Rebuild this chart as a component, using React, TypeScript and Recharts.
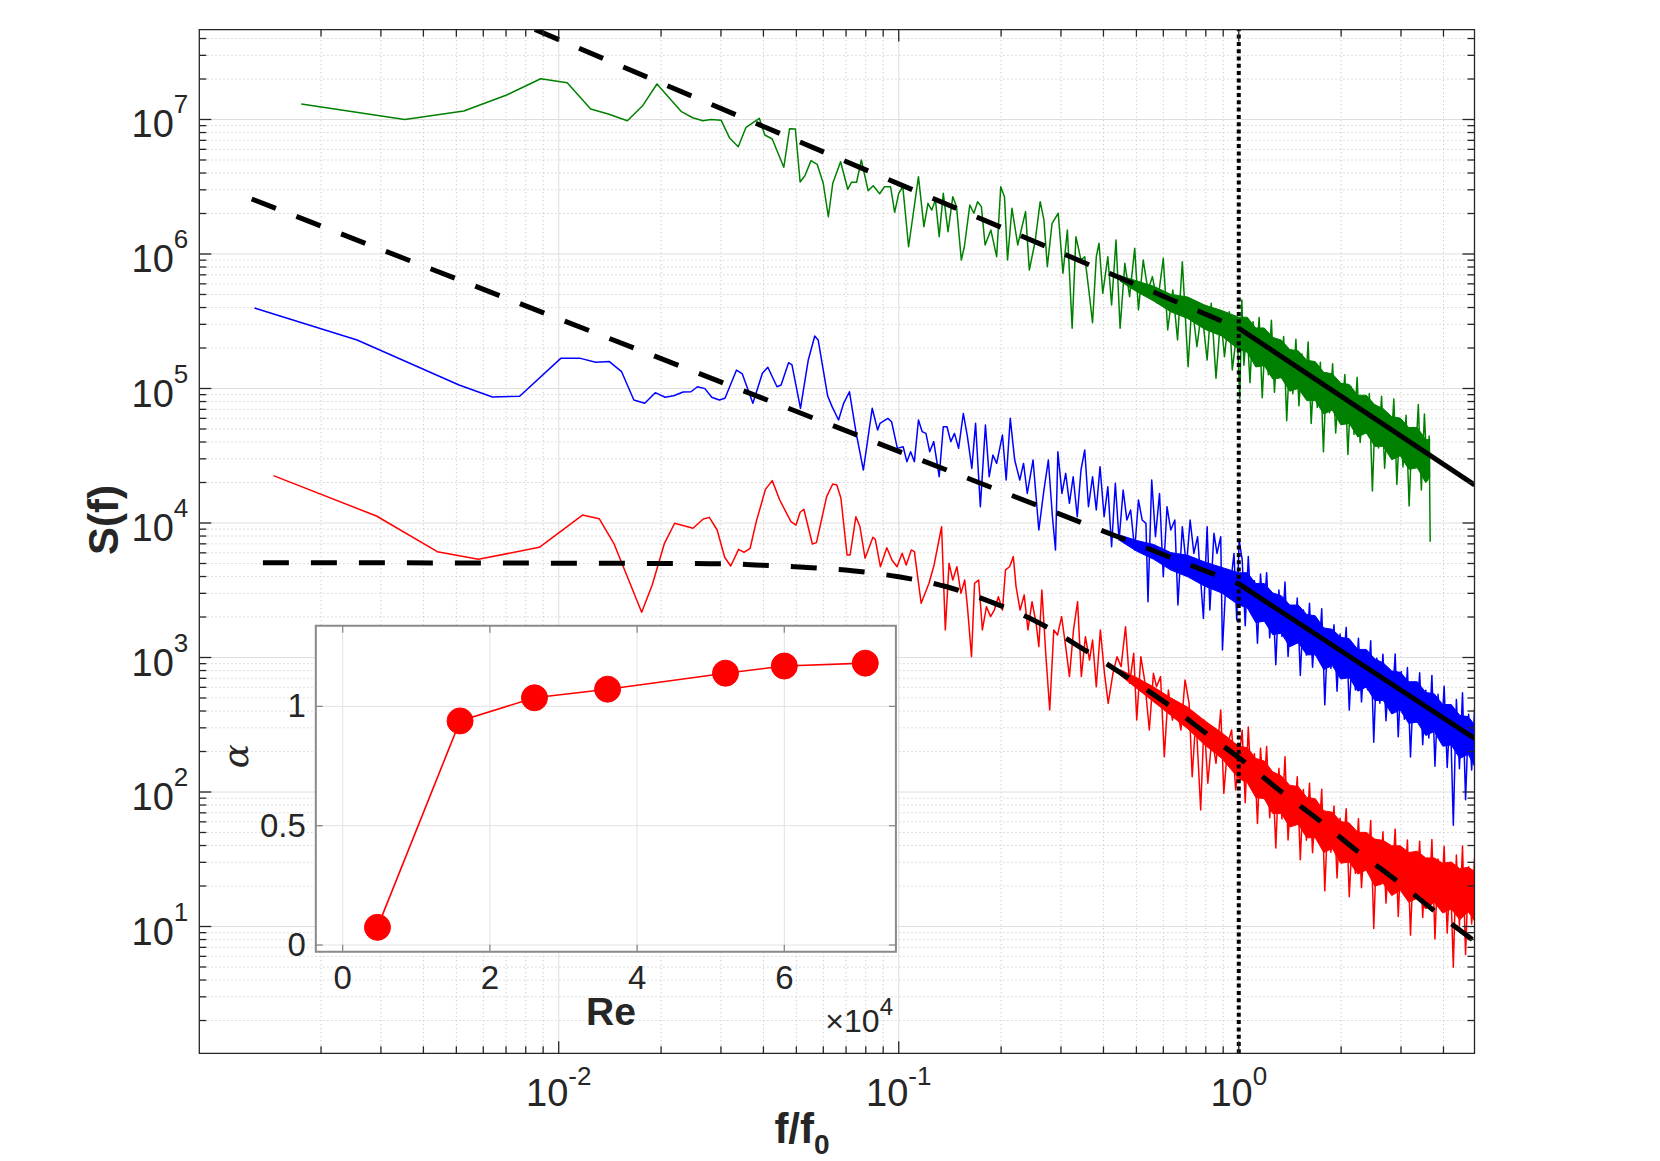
import {
  ComposedChart,
  Line,
  Area,
  XAxis,
  YAxis,
  ReferenceLine,
  ReferenceArea,
  CartesianGrid,
} from 'recharts'

const GREEN = '#008000'
const BLUE = '#0000ff'
const RED = '#ff0000'
const AXIS = '#262626'
const FONT = '"Liberation Sans", Arial, Helvetica, sans-serif'

// main axes (log-log)
const X_DOMAIN: [number, number] = [0.000877, 4.935]
const Y_DOMAIN: [number, number] = [1.141, 4.66e7]
const PLOT_L = 199.3
const PLOT_T = 29.6
const PLOT_R = 1474.5
const PLOT_B = 1053.3

const xMajorTicks = [0.01, 0.1, 1]
const xMinorTicks = [
  0.002, 0.003, 0.004, 0.005, 0.006, 0.007, 0.008, 0.009,
  0.02, 0.03, 0.04, 0.05, 0.06, 0.07, 0.08, 0.09,
  0.2, 0.3, 0.4, 0.5, 0.6, 0.7, 0.8, 0.9,
  2, 3, 4,
]
const yMajorTicks = [10, 100, 1000, 1e4, 1e5, 1e6, 1e7]
const yMinorTicks = [
  2, 3, 4, 5, 6, 7, 8, 9,
  20, 30, 40, 50, 60, 70, 80, 90,
  200, 300, 400, 500, 600, 700, 800, 900,
  2e3, 3e3, 4e3, 5e3, 6e3, 7e3, 8e3, 9e3,
  2e4, 3e4, 4e4, 5e4, 6e4, 7e4, 8e4, 9e4,
  2e5, 3e5, 4e5, 5e5, 6e5, 7e5, 8e5, 9e5,
  2e6, 3e6, 4e6, 5e6, 6e6, 7e6, 8e6, 9e6,
  2e7, 3e7, 4e7,
]

// spectra, as [log10(f/f0), log10 S(f)]
const greenLowFreq = [
  [-2.757, 7.115], [-2.453, 7.0], [-2.279, 7.063], [-2.153, 7.182], [-2.053, 7.303], [-1.975, 7.274],
  [-1.906, 7.078], [-1.852, 7.039], [-1.798, 6.991], [-1.754, 7.1], [-1.711, 7.264], [-1.639, 7.058],
  [-1.606, 7.013], [-1.576, 6.991], [-1.552, 7.0], [-1.522, 6.994], [-1.498, 6.865], [-1.472, 6.798],
  [-1.449, 6.942], [-1.41, 7.009], [-1.394, 6.885], [-1.372, 6.855], [-1.338, 6.645], [-1.321, 6.932],
  [-1.304, 6.929], [-1.29, 6.535], [-1.276, 6.582], [-1.258, 6.694], [-1.24, 6.667], [-1.222, 6.526],
  [-1.207, 6.277], [-1.194, 6.526], [-1.171, 6.686], [-1.15, 6.481], [-1.139, 6.533], [-1.124, 6.533],
  [-1.11, 6.699], [-1.09, 6.471], [-1.075, 6.508], [-1.056, 6.448], [-1.042, 6.5], [-1.024, 6.5],
  [-1.012, 6.31], [-1.0, 6.451], [-0.988, 6.5], [-0.971, 6.054],
  [-0.942, 6.575], [-0.926, 6.203], [-0.914, 6.377], [-0.903, 6.327], [-0.892, 6.401], [-0.881, 6.129],
  [-0.869, 6.451], [-0.855, 6.166], [-0.841, 6.426], [-0.83, 6.352], [-0.816, 5.955], [-0.807, 6.054],
  [-0.791, 6.364], [-0.779, 6.303], [-0.768, 6.389], [-0.757, 6.352], [-0.746, 6.067], [-0.729, 6.178],
  [-0.712, 5.98], [-0.7, 6.5], [-0.689, 6.426], [-0.68, 5.955], [-0.667, 6.34], [-0.65, 6.067],
  [-0.627, 6.315], [-0.616, 5.881], [-0.599, 6.091], [-0.584, 6.389], [-0.573, 6.253], [-0.563, 5.906],
  [-0.549, 6.228], [-0.531, 6.303], [-0.517, 5.857], [-0.504, 6.178], [-0.49, 5.448], [-0.479, 6.129],
  [-0.464, 5.955], [-0.453, 5.98], [-0.441, 5.732], [-0.43, 5.489], [-0.419, 5.98], [-0.411, 6.08],
  [-0.4, 5.708], [-0.385, 5.98], [-0.374, 5.621], [-0.361, 6.104], [-0.349, 5.448], [-0.335, 5.931],
  [-0.321, 5.683], [-0.306, 6.042], [-0.295, 5.584], [-0.281, 5.955], [-0.267, 5.732], [-0.254, 5.831],
  [-0.239, 5.633], [-0.222, 5.968], [-0.209, 5.435], [-0.194, 5.732], [-0.18, 5.361], [-0.166, 5.943],
  [-0.149, 5.162], [-0.138, 5.633], [-0.123, 5.311], [-0.109, 5.584], [-0.093, 5.212], [-0.081, 5.633],
  [-0.067, 5.076], [-0.053, 5.534], [-0.042, 5.236], [-0.028, 5.571], [-0.019, 5.138], [-0.005, 5.435],
  [0.003, 4.927], [0.009, 5.658],
]
const greenHighFreq = [
  [0.015, 5.173], [0.024, 5.458], [0.033, 5.043], [0.042, 5.497], [0.051, 5.212], [0.06, 5.527],
  [0.069, 4.932], [0.078, 5.397], [0.087, 5.102], [0.096, 5.507], [0.105, 4.972], [0.114, 5.356],
  [0.123, 5.121], [0.132, 5.386], [0.141, 4.761], [0.15, 5.256], [0.159, 4.961], [0.168, 5.366],
  [0.177, 4.871], [0.186, 5.256], [0.195, 4.97], [0.204, 5.345], [0.213, 4.74], [0.222, 5.155],
  [0.231, 4.86], [0.24, 5.195], [0.249, 4.53], [0.258, 5.115], [0.267, 4.82], [0.276, 5.184],
  [0.285, 4.669], [0.294, 5.004], [0.303, 4.819], [0.312, 5.104], [0.321, 4.509], [0.33, 5.014],
  [0.339, 4.659], [0.348, 5.083], [0.357, 4.598], [0.366, 4.913], [0.375, 4.668], [0.384, 4.963],
  [0.393, 4.238], [0.402, 4.873], [0.411, 4.558], [0.42, 4.942], [0.429, 4.407], [0.438, 4.772],
  [0.447, 4.517], [0.456, 4.922], [0.465, 4.287], [0.474, 4.772], [0.483, 4.417], [0.492, 4.801],
  [0.501, 4.126], [0.51, 4.691], [0.519, 4.426], [0.528, 4.881], [0.537, 4.246], [0.546, 4.811],
  [0.555, 4.316], [0.56, 4.647], [0.563, 3.861],
]

const blueLowFreq = [
  [-2.895, 5.599], [-2.593, 5.361], [-2.293, 5.026], [-2.195, 4.937], [-2.115, 4.942], [-1.994, 5.224],
  [-1.936, 5.224], [-1.891, 5.195], [-1.851, 5.2], [-1.815, 5.125], [-1.779, 4.914], [-1.747, 4.89],
  [-1.716, 4.969], [-1.687, 4.935], [-1.662, 4.946], [-1.634, 4.974], [-1.611, 4.976], [-1.592, 5.013],
  [-1.57, 4.999], [-1.55, 4.935], [-1.528, 4.914], [-1.511, 4.927], [-1.477, 5.137], [-1.46, 5.108],
  [-1.429, 4.89], [-1.401, 5.113], [-1.385, 5.158], [-1.358, 5.013], [-1.346, 5.026], [-1.324, 5.192],
  [-1.314, 5.175], [-1.289, 4.853], [-1.266, 5.212], [-1.247, 5.39], [-1.237, 5.361], [-1.209, 4.944],
  [-1.196, 4.865], [-1.177, 4.766], [-1.162, 4.89], [-1.145, 4.976], [-1.126, 4.679], [-1.104, 4.394],
  [-1.078, 4.853], [-1.062, 4.691],
  [-1.055, 4.741], [-1.032, 4.778], [-1.021, 4.753], [-1.004, 4.555], [-0.987, 4.567], [-0.976, 4.456],
  [-0.965, 4.53], [-0.954, 4.456], [-0.942, 4.766], [-0.931, 4.679], [-0.92, 4.666], [-0.909, 4.53],
  [-0.897, 4.605], [-0.881, 4.344], [-0.869, 4.716], [-0.858, 4.716], [-0.847, 4.605], [-0.836, 4.666],
  [-0.824, 4.555], [-0.81, 4.815], [-0.798, 4.642], [-0.785, 4.406], [-0.774, 4.741], [-0.76, 4.121],
  [-0.745, 4.728], [-0.734, 4.344], [-0.723, 4.505], [-0.712, 4.443], [-0.695, 4.654], [-0.684, 4.32],
  [-0.672, 4.778], [-0.659, 4.468], [-0.644, 4.32], [-0.633, 4.443], [-0.622, 4.22], [-0.605, 4.468],
  [-0.588, 3.948], [-0.573, 4.245], [-0.56, 4.468], [-0.548, 4.047], [-0.539, 3.799], [-0.532, 4.53],
  [-0.52, 4.22], [-0.509, 4.369], [-0.498, 4.146], [-0.487, 4.344], [-0.475, 4.047], [-0.464, 4.394],
  [-0.453, 4.543], [-0.442, 4.121], [-0.43, 4.344], [-0.419, 4.097], [-0.408, 4.419], [-0.396, 4.047],
  [-0.385, 4.27], [-0.374, 3.824], [-0.363, 4.295], [-0.352, 3.873], [-0.34, 4.245], [-0.329, 4.022],
  [-0.318, 4.097], [-0.306, 3.799], [-0.295, 4.171], [-0.284, 4.022], [-0.273, 3.997], [-0.267, 3.415],
  [-0.256, 4.32], [-0.245, 3.898], [-0.233, 4.22], [-0.222, 3.601], [-0.211, 4.121], [-0.2, 3.948],
  [-0.188, 4.022], [-0.179, 3.39], [-0.166, 3.973], [-0.154, 3.675], [-0.143, 4.022], [-0.132, 3.774],
  [-0.121, 3.898], [-0.104, 3.291], [-0.093, 3.973], [-0.085, 3.353], [-0.073, 3.923], [-0.064, 3.774],
  [-0.053, 3.898], [-0.048, 3.056], [-0.036, 3.65], [-0.025, 3.527], [-0.014, 3.774], [-0.006, 3.279],
  [0.001, 3.873],
]
const blueHighFreq = [
  [0.01, 3.73], [0.019, 3.236], [0.028, 3.751], [0.037, 3.336], [0.046, 3.571], [0.055, 3.106],
  [0.064, 3.621], [0.073, 3.306], [0.082, 3.631], [0.091, 3.146], [0.1, 3.462], [0.109, 2.947],
  [0.118, 3.502], [0.127, 3.157], [0.136, 3.562], [0.145, 3.007], [0.154, 3.352], [0.163, 3.137],
  [0.172, 3.442], [0.181, 2.867], [0.19, 3.353], [0.199, 3.018], [0.208, 3.403], [0.217, 2.928],
  [0.226, 3.273], [0.235, 3.008], [0.244, 3.363], [0.253, 2.648], [0.262, 3.193], [0.271, 2.918],
  [0.28, 3.244], [0.289, 2.749], [0.298, 3.174], [0.307, 2.919], [0.316, 3.224], [0.325, 2.609],
  [0.334, 3.054], [0.343, 2.759], [0.352, 3.144], [0.361, 2.67], [0.37, 3.035], [0.379, 2.76],
  [0.388, 3.125], [0.397, 2.37], [0.406, 2.995], [0.415, 2.66], [0.424, 3.025], [0.433, 2.53],
  [0.442, 2.895], [0.451, 2.651], [0.46, 3.026], [0.469, 2.411], [0.478, 2.896], [0.487, 2.541],
  [0.496, 2.926], [0.505, 2.261], [0.514, 2.796], [0.523, 2.521], [0.532, 2.887], [0.541, 2.352],
  [0.55, 2.757], [0.559, 2.402], [0.568, 2.867], [0.577, 2.192], [0.586, 2.727], [0.595, 2.382],
  [0.604, 2.787], [0.613, 2.182], [0.622, 2.618], [0.631, 1.753], [0.64, 2.688], [0.649, 2.173],
  [0.658, 2.738], [0.667, 1.943], [0.676, 2.578], [0.685, 2.163], [0.6935, 2.619],
]

const redLowFreq = [
  [-2.839, 4.352], [-2.536, 4.052], [-2.357, 3.787], [-2.236, 3.73], [-2.057, 3.819], [-1.93, 4.059],
  [-1.881, 4.032], [-1.838, 3.849], [-1.756, 3.336], [-1.725, 3.539], [-1.689, 3.849], [-1.659, 3.998],
  [-1.605, 3.961], [-1.575, 4.03], [-1.557, 4.042], [-1.534, 3.948], [-1.512, 3.745], [-1.494, 3.68],
  [-1.471, 3.804], [-1.455, 3.782], [-1.437, 3.812], [-1.419, 4.01], [-1.392, 4.25], [-1.372, 4.315],
  [-1.35, 4.171], [-1.317, 4.01], [-1.302, 3.985], [-1.29, 4.08], [-1.279, 4.102], [-1.254, 3.844],
  [-1.242, 3.854], [-1.212, 4.196], [-1.194, 4.29], [-1.182, 4.283], [-1.17, 4.184], [-1.152, 3.762],
  [-1.143, 3.762], [-1.126, 4.047], [-1.114, 3.972], [-1.099, 3.738], [-1.076, 3.894], [-1.069, 3.879],
  [-1.054, 3.675], [-1.035, 3.816], [-1.02, 3.725], [-1.005, 3.675], [-0.99, 3.775], [-0.978, 3.688],
  [-0.963, 3.8], [-0.954, 3.787], [-0.934, 3.403], [-0.911, 3.552], [-0.896, 3.688], [-0.874, 3.972],
  [-0.863, 3.204],
  [-0.852, 3.7], [-0.841, 3.576], [-0.829, 3.675], [-0.817, 3.477], [-0.806, 3.576], [-0.798, 3.378],
  [-0.786, 3.006], [-0.777, 3.551], [-0.765, 3.576], [-0.754, 3.205], [-0.742, 3.378], [-0.73, 3.304],
  [-0.719, 3.353], [-0.707, 3.452], [-0.695, 3.353], [-0.686, 3.651], [-0.674, 3.675], [-0.663, 3.75],
  [-0.655, 3.527], [-0.643, 3.353], [-0.631, 3.465], [-0.62, 3.205], [-0.608, 3.415], [-0.596, 3.254],
  [-0.588, 3.081], [-0.579, 3.502], [-0.567, 3.006], [-0.556, 2.61], [-0.544, 3.205], [-0.533, 3.167],
  [-0.521, 3.304], [-0.509, 3.081], [-0.498, 2.858], [-0.486, 3.205], [-0.474, 3.415], [-0.463, 2.858],
  [-0.451, 3.155], [-0.439, 2.981], [-0.43, 3.13], [-0.419, 2.783], [-0.407, 3.205], [-0.395, 2.882],
  [-0.384, 2.659], [-0.37, 2.882], [-0.358, 3.006], [-0.346, 2.932], [-0.333, 3.229], [-0.321, 2.808],
  [-0.309, 3.031], [-0.3, 2.535], [-0.288, 3.006], [-0.277, 2.833], [-0.263, 2.461], [-0.251, 2.882],
  [-0.242, 2.783], [-0.23, 2.858], [-0.219, 2.263], [-0.207, 2.758], [-0.195, 2.535], [-0.184, 2.659],
  [-0.17, 2.461], [-0.158, 2.833], [-0.146, 2.659], [-0.137, 2.114], [-0.126, 2.56], [-0.112, 1.866],
  [-0.102, 2.535], [-0.091, 2.065], [-0.079, 2.411], [-0.067, 2.213], [-0.053, 2.61], [-0.044, 1.99],
  [-0.032, 2.362], [-0.021, 2.461], [-0.009, 2.015],
]
const redHighFreq = [
  [0.01, 2.459], [0.019, 1.921], [0.028, 2.483], [0.037, 2.034], [0.046, 2.285], [0.055, 1.766],
  [0.064, 2.326], [0.073, 1.967], [0.082, 2.338], [0.091, 1.809], [0.1, 2.13], [0.109, 1.583],
  [0.118, 2.176], [0.127, 1.799], [0.136, 2.262], [0.145, 1.644], [0.154, 2.007], [0.163, 1.78],
  [0.172, 2.113], [0.181, 1.496], [0.19, 2.019], [0.199, 1.642], [0.208, 2.066], [0.217, 1.549],
  [0.226, 1.913], [0.235, 1.637], [0.244, 2.021], [0.253, 1.265], [0.262, 1.828], [0.271, 1.552],
  [0.28, 1.896], [0.289, 1.36], [0.298, 1.804], [0.307, 1.549], [0.316, 1.876], [0.325, 1.222],
  [0.334, 1.689], [0.343, 1.395], [0.352, 1.802], [0.361, 1.288], [0.37, 1.675], [0.379, 1.402],
  [0.388, 1.788], [0.397, 0.985], [0.406, 1.643], [0.415, 1.314], [0.424, 1.704], [0.433, 1.174],
  [0.442, 1.564], [0.451, 1.324], [0.46, 1.724], [0.469, 1.074], [0.478, 1.584], [0.487, 1.234],
  [0.496, 1.644], [0.505, 0.936], [0.514, 1.509], [0.523, 1.242], [0.532, 1.634], [0.541, 1.067],
  [0.55, 1.5], [0.559, 1.153], [0.568, 1.646], [0.577, 0.908], [0.586, 1.501], [0.595, 1.164],
  [0.604, 1.597], [0.613, 0.951], [0.622, 1.424], [0.631, 0.697], [0.64, 1.531], [0.649, 1.004],
  [0.658, 1.598], [0.667, 0.791], [0.676, 1.445], [0.685, 1.018], [0.6935, 1.513],
]

// dense cores of the noisy tails: [log10 f, log10 low, log10 high]
const greenCore = [
  [-0.35, 5.8, 5.84], [-0.3, 5.72, 5.8], [-0.25, 5.65, 5.76], [-0.2, 5.57, 5.7], [-0.15, 5.52, 5.68],
  [-0.1, 5.44, 5.62], [-0.05, 5.39, 5.58], [0, 5.29, 5.53],
  [0.025, 5.27, 5.53], [0.05, 5.16, 5.45], [0.075, 5.17, 5.45], [0.1, 5.07, 5.38], [0.125, 5.08, 5.36],
  [0.15, 4.98, 5.29], [0.175, 5.0, 5.28], [0.2, 4.91, 5.21], [0.225, 4.91, 5.2], [0.25, 4.81, 5.12],
  [0.275, 4.84, 5.11], [0.3, 4.73, 5.04], [0.325, 4.74, 5.03], [0.35, 4.64, 4.95], [0.375, 4.67, 4.95],
  [0.4, 4.57, 4.88], [0.425, 4.57, 4.85], [0.45, 4.47, 4.79], [0.475, 4.5, 4.78], [0.5, 4.4, 4.71],
  [0.525, 4.41, 4.71], [0.55, 4.3, 4.62], [0.563, 4.35, 4.62],
]
const blueCore = [
  [-0.35, 3.87, 3.91], [-0.3, 3.79, 3.87], [-0.25, 3.73, 3.84], [-0.2, 3.65, 3.78], [-0.15, 3.6, 3.76],
  [-0.1, 3.53, 3.71], [-0.05, 3.48, 3.67], [0, 3.39, 3.63],
  [0.025, 3.37, 3.63], [0.05, 3.26, 3.55], [0.075, 3.27, 3.55], [0.1, 3.17, 3.48], [0.125, 3.18, 3.46],
  [0.15, 3.08, 3.39], [0.175, 3.11, 3.39], [0.2, 3.02, 3.32], [0.225, 3.02, 3.31], [0.25, 2.91, 3.22],
  [0.275, 2.94, 3.21], [0.3, 2.84, 3.15], [0.325, 2.85, 3.14], [0.35, 2.75, 3.06], [0.375, 2.78, 3.06],
  [0.4, 2.68, 2.99], [0.425, 2.68, 2.96], [0.45, 2.58, 2.9], [0.475, 2.61, 2.89], [0.5, 2.51, 2.82],
  [0.525, 2.52, 2.82], [0.55, 2.42, 2.74], [0.575, 2.45, 2.73], [0.6, 2.34, 2.65], [0.625, 2.35, 2.65],
  [0.65, 2.25, 2.57], [0.675, 2.28, 2.56], [0.6935, 2.19, 2.5],
]
const redCore = [
  [-0.35, 2.87, 2.91], [-0.3, 2.77, 2.85], [-0.25, 2.67, 2.78], [-0.2, 2.57, 2.7], [-0.15, 2.47, 2.63],
  [-0.1, 2.35, 2.53], [-0.05, 2.25, 2.44], [0, 2.1, 2.34],
  [0.025, 2.07, 2.33], [0.05, 1.96, 2.25], [0.075, 1.95, 2.23], [0.1, 1.84, 2.15], [0.125, 1.84, 2.12],
  [0.15, 1.74, 2.05], [0.175, 1.76, 2.04], [0.2, 1.66, 1.96], [0.225, 1.66, 1.95], [0.25, 1.55, 1.86],
  [0.275, 1.58, 1.85], [0.3, 1.47, 1.78], [0.325, 1.48, 1.77], [0.35, 1.39, 1.7], [0.375, 1.42, 1.7],
  [0.4, 1.3, 1.65], [0.425, 1.32, 1.64], [0.45, 1.23, 1.6], [0.475, 1.27, 1.6], [0.5, 1.18, 1.55],
  [0.525, 1.21, 1.56], [0.55, 1.13, 1.51], [0.575, 1.18, 1.51], [0.6, 1.1, 1.47], [0.625, 1.13, 1.48],
  [0.65, 1.05, 1.43], [0.675, 1.11, 1.44], [0.6935, 1.04, 1.41],
]

// fits
const greenFitLow = [[-2.2, 7.809], [0, 5.448]]
const greenFitHigh = [[0, 5.448], [0.6935, 4.283]]
const blueFitLow = [[-2.903, 6.409], [0, 3.547]]
const blueFitHigh = [[0, 3.547], [0.6935, 2.399]]
const redFit = [
  [-2.87, 3.705], [-1.512, 3.697], [-1.422, 3.688], [-1.279, 3.671], [-1.137, 3.645], [-1.0, 3.6],
  [-0.859, 3.526], [-0.731, 3.415], [-0.604, 3.279], [-0.445, 3.043], [-0.323, 2.845], [-0.213, 2.659],
  [-0.096, 2.436], [0.009, 2.238], [0.131, 1.99], [0.235, 1.792], [0.351, 1.556], [0.462, 1.346],
  [0.572, 1.123], [0.6935, 0.89],
]

// inset: exponent alpha vs Re
const reValues = [4730, 15950, 26060, 35990, 52010, 60000, 71000]
const alphaValues = [0.074, 0.939, 1.036, 1.072, 1.139, 1.169, 1.181]
const reTicks = [0, 20000, 40000, 60000]
const alphaTicks = [0, 0.5, 1]

const toPoints = (pairs: number[][]) => pairs.map(([lf, ls]) => ({ f: 10 ** lf, s: 10 ** ls }))
const toBand = (rows: number[][]) =>
  rows.map(([lf, lo, hi]) => ({ f: 10 ** lf, range: [10 ** lo, 10 ** hi] }))

const greenData = toPoints([...greenLowFreq, ...greenHighFreq])
const blueData = toPoints([...blueLowFreq, ...blueHighFreq])
const redData = toPoints([...redLowFreq, ...redHighFreq])
const insetData = reValues.map((re, i) => ({ re, alpha: alphaValues[i] }))

const mainXTick = (props: any) => {
  const { x, payload } = props
  const v = payload.value
  const major = xMajorTicks.includes(v)
  const len = major ? 12 : 7
  return (
    <g>
      <line x1={x} x2={x} y1={PLOT_B} y2={PLOT_B - len} stroke={AXIS} strokeWidth={1.3} />
      <line x1={x} x2={x} y1={PLOT_T} y2={PLOT_T + len} stroke={AXIS} strokeWidth={1.3} />
      {major && (
        <text x={x} y={PLOT_B + 53} textAnchor="middle" fill={AXIS} fontSize={38} fontFamily={FONT}>
          10
          <tspan dy={-21} fontSize={26}>
            {Math.round(Math.log10(v))}
          </tspan>
        </text>
      )}
    </g>
  )
}

const mainYTick = (props: any) => {
  const { y, payload } = props
  const v = payload.value
  const major = yMajorTicks.includes(v)
  const len = major ? 12 : 7
  return (
    <g>
      <line x1={PLOT_L} x2={PLOT_L + len} y1={y} y2={y} stroke={AXIS} strokeWidth={1.3} />
      <line x1={PLOT_R} x2={PLOT_R - len} y1={y} y2={y} stroke={AXIS} strokeWidth={1.3} />
      {major && (
        <text x={PLOT_L - 11} y={y + 18} textAnchor="end" fill={AXIS} fontSize={38} fontFamily={FONT}>
          10
          <tspan dy={-24} fontSize={26}>
            {Math.round(Math.log10(v))}
          </tspan>
        </text>
      )}
    </g>
  )
}

// inset plot box, in the inset's own svg
const IN_L = 115.8
const IN_T = 25.7
const IN_R = 695.9
const IN_B = 351.7
const INSET_BOX = '#8a8a8a'

const insetXTick = (props: any) => {
  const { x, payload } = props
  return (
    <g>
      <line x1={x} x2={x} y1={IN_B} y2={IN_B - 7} stroke={INSET_BOX} strokeWidth={1.3} />
      <line x1={x} x2={x} y1={IN_T} y2={IN_T + 7} stroke={INSET_BOX} strokeWidth={1.3} />
      <text x={x} y={IN_B + 37} textAnchor="middle" fill={AXIS} fontSize={33} fontFamily={FONT}>
        {payload.value / 10000}
      </text>
    </g>
  )
}

const insetYTick = (props: any) => {
  const { y, payload } = props
  return (
    <g>
      <line x1={IN_L} x2={IN_L + 7} y1={y} y2={y} stroke={INSET_BOX} strokeWidth={1.3} />
      <line x1={IN_R} x2={IN_R - 7} y1={y} y2={y} stroke={INSET_BOX} strokeWidth={1.3} />
      <text x={IN_L - 10} y={y + 11} textAnchor="end" fill={AXIS} fontSize={33} fontFamily={FONT}>
        {payload.value}
      </text>
    </g>
  )
}

const X_AXIS_H = 60
const Y_AXIS_W = 80

function MainChart() {
  return (
    <ComposedChart
      width={1660}
      height={1161}
      margin={{
        top: PLOT_T,
        left: PLOT_L - Y_AXIS_W,
        right: 1660 - PLOT_R,
        bottom: 1161 - PLOT_B - X_AXIS_H,
      }}
    >
      <XAxis
        dataKey="f"
        type="number"
        scale="log"
        domain={X_DOMAIN}
        allowDataOverflow
        ticks={[...xMajorTicks, ...xMinorTicks]}
        interval={0}
        height={X_AXIS_H}
        tickLine={false}
        axisLine={false}
        tick={mainXTick}
      />
      <YAxis
        type="number"
        scale="log"
        domain={Y_DOMAIN}
        allowDataOverflow
        ticks={[...yMajorTicks, ...yMinorTicks]}
        interval={0}
        width={Y_AXIS_W}
        tickLine={false}
        axisLine={false}
        tick={mainYTick}
      />
      {xMinorTicks.map((v) => (
        <ReferenceLine key={'xm' + v} x={v} stroke="#c9c9c9" strokeDasharray="1.2 2.8" zIndex={-50} />
      ))}
      {yMinorTicks.map((v) => (
        <ReferenceLine key={'ym' + v} y={v} stroke="#c9c9c9" strokeDasharray="1.2 2.8" zIndex={-50} />
      ))}
      {xMajorTicks.map((v) => (
        <ReferenceLine key={'xM' + v} x={v} stroke="#dedede" zIndex={-40} />
      ))}
      {yMajorTicks.map((v) => (
        <ReferenceLine key={'yM' + v} y={v} stroke="#dedede" zIndex={-40} />
      ))}

      <Area data={toBand(greenCore)} dataKey="range" type="linear" stroke={GREEN} strokeWidth={1} fill={GREEN} fillOpacity={1} isAnimationActive={false} />
      <Area data={toBand(blueCore)} dataKey="range" type="linear" stroke={BLUE} strokeWidth={1} fill={BLUE} fillOpacity={1} isAnimationActive={false} />
      <Area data={toBand(redCore)} dataKey="range" type="linear" stroke={RED} strokeWidth={1} fill={RED} fillOpacity={1} isAnimationActive={false} />

      <Line data={greenData} dataKey="s" stroke={GREEN} strokeWidth={1.5} strokeLinejoin="round" dot={false} isAnimationActive={false} />
      <Line data={blueData} dataKey="s" stroke={BLUE} strokeWidth={1.5} strokeLinejoin="round" dot={false} isAnimationActive={false} />
      <Line data={redData} dataKey="s" stroke={RED} strokeWidth={1.5} strokeLinejoin="round" dot={false} isAnimationActive={false} />

      <Line data={toPoints(greenFitLow)} dataKey="s" stroke="#000" strokeWidth={5} strokeDasharray="26 22" dot={false} isAnimationActive={false} />
      <Line data={toPoints(blueFitLow)} dataKey="s" stroke="#000" strokeWidth={5} strokeDasharray="26 22" dot={false} isAnimationActive={false} />
      <Line data={toPoints(redFit)} dataKey="s" type="monotone" stroke="#000" strokeWidth={5} strokeDasharray="26 22" dot={false} isAnimationActive={false} />
      <Line data={toPoints(greenFitHigh)} dataKey="s" stroke="#000" strokeWidth={5} dot={false} isAnimationActive={false} />
      <Line data={toPoints(blueFitHigh)} dataKey="s" stroke="#000" strokeWidth={5} dot={false} isAnimationActive={false} />

      <ReferenceLine x={1} stroke="#000" strokeWidth={4} strokeDasharray="4 3.3" zIndex={700} />
      <ReferenceArea
        x1={X_DOMAIN[0]}
        x2={X_DOMAIN[1]}
        y1={Y_DOMAIN[0]}
        y2={Y_DOMAIN[1]}
        fill="none"
        fillOpacity={0}
        stroke={AXIS}
        strokeWidth={1.3}
        zIndex={800}
      />
    </ComposedChart>
  )
}

const IN_X_AXIS_H = 50
const IN_Y_AXIS_W = 60

function InsetChart() {
  return (
    <ComposedChart
      width={750}
      height={440}
      data={insetData}
      margin={{ top: IN_T, left: IN_L - IN_Y_AXIS_W, right: 750 - IN_R, bottom: 440 - IN_B - IN_X_AXIS_H }}
    >
      <CartesianGrid stroke="#e2e2e2" fill="#ffffff" fillOpacity={1} />
      <XAxis
        dataKey="re"
        type="number"
        domain={[-3650, 75160]}
        allowDataOverflow
        ticks={reTicks}
        interval={0}
        height={IN_X_AXIS_H}
        tickLine={false}
        axisLine={false}
        tick={insetXTick}
      />
      <YAxis
        type="number"
        domain={[-0.028, 1.338]}
        allowDataOverflow
        ticks={alphaTicks}
        interval={0}
        width={IN_Y_AXIS_W}
        tickLine={false}
        axisLine={false}
        tick={insetYTick}
      />
      <ReferenceArea
        x1={-3650}
        x2={75160}
        y1={-0.028}
        y2={1.338}
        fill="none"
        fillOpacity={0}
        stroke={INSET_BOX}
        strokeWidth={2}
      />
      <Line
        dataKey="alpha"
        stroke={RED}
        strokeWidth={1.6}
        dot={{ r: 13, fill: RED, stroke: RED, strokeWidth: 1 }}
        isAnimationActive={false}
      />
    </ComposedChart>
  )
}

export default function App() {
  return (
    <div style={{ position: 'absolute', left: 0, top: 0, width: 1660, height: 1161, background: '#fff' }}>
      <MainChart />
      <div style={{ position: 'absolute', left: 200, top: 600 }}>
        <InsetChart />
      </div>
      <svg
        width={1660}
        height={1161}
        style={{ position: 'absolute', left: 0, top: 0, pointerEvents: 'none' }}
      >
        <text
          x={118}
          y={520}
          transform="rotate(-90 118 520)"
          textAnchor="middle"
          fontSize={42}
          fontWeight="bold"
          fill={AXIS}
          fontFamily={FONT}
        >
          S(f)
        </text>
        <text x={802} y={1143} textAnchor="middle" fontSize={42} fontWeight="bold" fill={AXIS} fontFamily={FONT}>
          f/f
          <tspan dy={11} fontSize={28}>
            0
          </tspan>
        </text>
        <text x={611} y={1025} textAnchor="middle" fontSize={39} fontWeight="bold" fill={AXIS} fontFamily={FONT}>
          Re
        </text>
        <text x={893} y={1031.7} textAnchor="end" fontSize={32} fill={AXIS} fontFamily={FONT}>
          ×10
          <tspan dy={-17} fontSize={24}>
            4
          </tspan>
        </text>
        <text
          x={248}
          y={756}
          transform="rotate(-90 248 756)"
          textAnchor="middle"
          fontSize={36}
          fontStyle="italic"
          fill={AXIS}
          fontFamily='"DejaVu Serif", "Liberation Serif", serif'
        >
          α
        </text>
      </svg>
    </div>
  )
}
